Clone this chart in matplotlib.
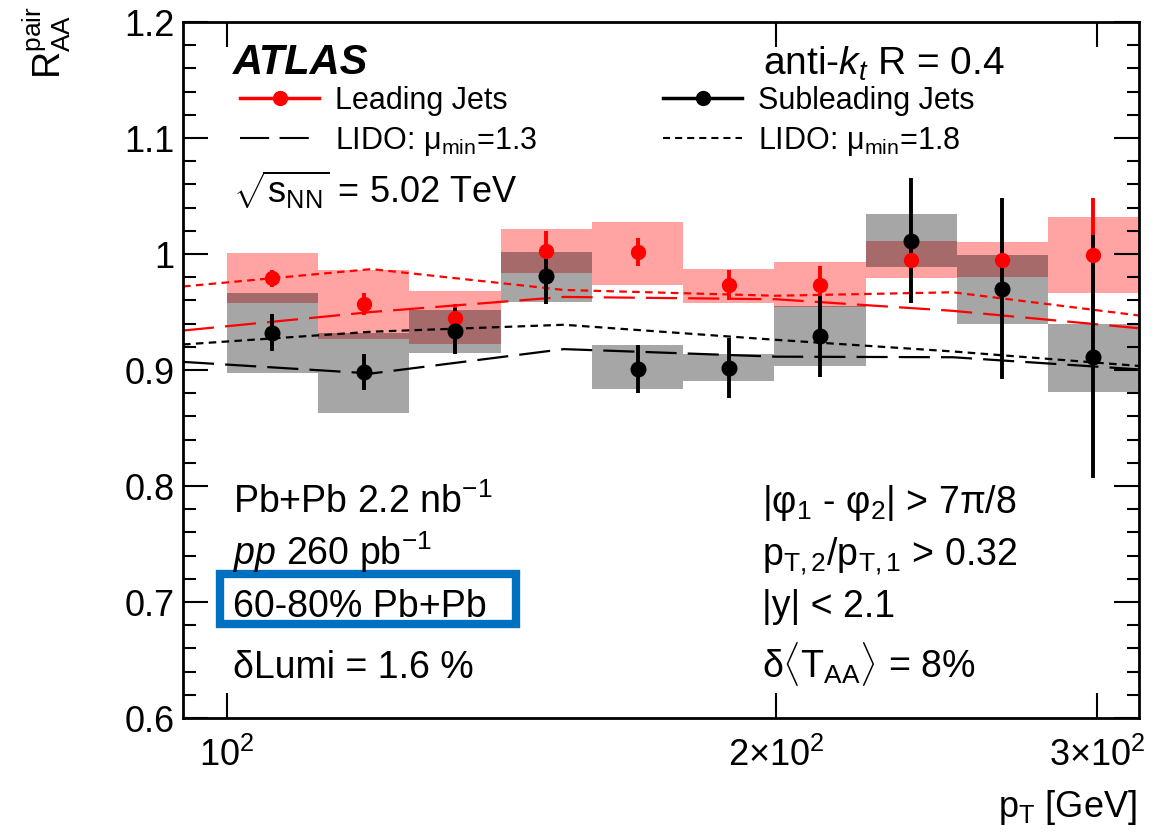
import numpy as np
import matplotlib
matplotlib.use('Agg')
import matplotlib.pyplot as plt
from matplotlib.patches import Rectangle
from matplotlib.lines import Line2D
from matplotlib.ticker import FixedLocator, MultipleLocator, NullLocator

plt.rcParams['font.family'] = ['Liberation Sans', 'DejaVu Sans']
plt.rcParams['mathtext.fontset'] = 'custom'
plt.rcParams['mathtext.rm'] = 'Liberation Sans'
plt.rcParams['mathtext.it'] = 'Liberation Sans:italic'
plt.rcParams['mathtext.bf'] = 'Liberation Sans:bold'

# pT bins [GeV]
edges = [100, 112.2, 125.9, 141.3, 158.5, 177.8, 199.5, 223.9, 251.2, 281.8, 316.2]
centers = [105.9, 118.9, 133.4, 149.6, 167.9, 188.4, 211.3, 237.1, 266.1, 298.5]

# leading jets
lead_val = [0.979, 0.957, 0.945, 1.003, 1.002, 0.973, 0.973, 0.995, 0.995, 0.999]
lead_err = [0.0075, 0.0097, 0.012, 0.017, 0.012, 0.0128, 0.017, 0.012, 0.015, 0.049]
lead_lo = [0.9575, 0.927, 0.922, 0.984, 0.9733, 0.958, 0.954, 0.979, 0.9805, 0.966]
lead_hi = [1.0006, 0.9862, 0.968, 1.0213, 1.0279, 0.987, 0.993, 1.0115, 1.010, 1.0316]

# subleading jets
sub_val = [0.932, 0.898, 0.934, 0.981, 0.901, 0.9015, 0.929, 1.0115, 0.970, 0.9115]
sub_err = [0.016, 0.0154, 0.0198, 0.024, 0.0205, 0.026, 0.035, 0.054, 0.078, 0.105]
sub_lo = [0.8977, 0.8627, 0.9144, 0.959, 0.8836, 0.8905, 0.9034, 0.9885, 0.9394, 0.8808]
sub_hi = [0.966, 0.932, 0.9515, 1.002, 0.9216, 0.9135, 0.955, 1.0342, 0.9991, 0.9394]

# LIDO curves
lido_pt = [94.6, 120, 153, 200, 250, 316.2]
lead_mu13 = [0.934, 0.950, 0.963, 0.961, 0.951, 0.936]
lead_mu18 = [0.972, 0.987, 0.969, 0.964, 0.967, 0.947]
sub_mu13 = [0.907, 0.897, 0.918, 0.9115, 0.911, 0.9005]
sub_mu18 = [0.922, 0.933, 0.939, 0.926, 0.916, 0.9035]

W, H = 1175, 839
fig = plt.figure(figsize=(W / 100, H / 100), dpi=100)
ax = fig.add_axes([183 / W, 1 - 718 / H, (1139 - 183) / W, (718 - 22) / H])
ax.set_xscale('log')
ax.set_xlim(94.6, 316.2)
ax.set_ylim(0.6, 1.2)

long_dash = (0, (14, 5))
short_dash = (0, (3.4, 2.4))

# systematic boxes
for i in range(len(centers)):
    ax.add_patch(Rectangle((edges[i], lead_lo[i]), edges[i + 1] - edges[i],
                           lead_hi[i] - lead_lo[i], facecolor='red', alpha=0.36, lw=0))
for i in range(len(centers)):
    ax.add_patch(Rectangle((edges[i], sub_lo[i]), edges[i + 1] - edges[i],
                           sub_hi[i] - sub_lo[i], facecolor='black', alpha=0.35, lw=0))

ax.plot(lido_pt, lead_mu13, color='red', lw=1.6, linestyle=long_dash)
ax.plot(lido_pt, lead_mu18, color='red', lw=1.6, linestyle=short_dash)
ax.plot(lido_pt, sub_mu13, color='black', lw=1.6, linestyle=long_dash)
ax.plot(lido_pt, sub_mu18, color='black', lw=1.6, linestyle=short_dash)

ax.errorbar(centers, lead_val, yerr=lead_err, fmt='o', color='red', ms=10,
            elinewidth=2.8, capsize=0)
ax.errorbar(centers, sub_val, yerr=sub_err, fmt='o', color='black', ms=10.5,
            elinewidth=2.8, capsize=0)

# axes styling
for s in ax.spines.values():
    s.set_linewidth(2)
ax.yaxis.set_minor_locator(MultipleLocator(0.02))
ax.set_yticks([0.6, 0.7, 0.8, 0.9, 1.0, 1.1, 1.2])
ax.set_yticklabels(['0.6', '0.7', '0.8', '0.9', '1', '1.1', '1.2'])
ax.xaxis.set_major_locator(FixedLocator([100, 200, 300]))
ax.xaxis.set_minor_locator(NullLocator())
ax.set_xticklabels([r'$10^{2}$', r'$2{\times}10^{2}$', r'$3{\times}10^{2}$'])
ax.tick_params(which='both', direction='in', top=True, right=True, width=1.5)
ax.tick_params(which='major', length=18, labelsize=26)
ax.tick_params(axis='y', which='major', pad=6)
ax.tick_params(axis='x', which='major', pad=14)
ax.tick_params(which='minor', length=9)


def ftext(x, y, s, **kw):
    return fig.text(x / W, 1 - y / H, s, **kw)


ftext(1137, 817, r'p$_{\mathrm{T}}$ [GeV]', ha='right', va='baseline', fontsize=26)
ftext(47, 6, r'R$^{\mathrm{pair}}_{\mathrm{AA}}$', rotation=90, ha='center', va='top', fontsize=27)

ftext(233, 74, 'ATLAS', fontsize=30, fontweight='bold', fontstyle='italic', va='baseline')
ftext(763, 75, r'anti-$k_{t}$ R = 0.4', fontsize=28, va='baseline')
ftext(233, 203, r'$\sqrt{\mathrm{s}_{\mathrm{NN}}}$ = 5.02 TeV', fontsize=26, va='baseline')

ftext(233, 513, r'Pb+Pb 2.2 nb$^{\mathrm{-1}}$', fontsize=27, va='baseline')
ftext(233, 565, r'$pp$ 260 pb$^{\mathrm{-1}}$', fontsize=27, va='baseline')
ftext(233, 617, '60-80% Pb+Pb', fontsize=27, va='baseline')
ftext(233, 678, 'δLumi = 1.6 %', fontsize=27, va='baseline')
fig.patches.append(Rectangle((220 / W, 1 - 624 / H), 296 / W, 50 / H, transform=fig.transFigure,
                             fill=False, edgecolor='#0070c0', lw=6))

ftext(762, 513, r'|φ$_{\mathrm{1}}$ - φ$_{\mathrm{2}}$| > 7π/8', fontsize=27, va='baseline')
ftext(762, 565, r'p$_{\mathrm{T,2}}$/p$_{\mathrm{T,1}}$ > 0.32', fontsize=27, va='baseline')
ftext(762, 617, '|y| < 2.1', fontsize=27, va='baseline')
ftext(762, 678, r'δ$\langle$T$_{\mathrm{AA}}\rangle$ = 8%', fontsize=27, va='baseline')

# legend
h_lead = Line2D([], [], color='red', marker='o', ms=10, lw=2.5)
h_sub = Line2D([], [], color='black', marker='o', ms=10, lw=2.5)
h_l13 = Line2D([], [], color='black', lw=1.5, linestyle=long_dash)
h_l18 = Line2D([], [], color='black', lw=1.5, linestyle=short_dash)
leg1 = ax.legend([h_lead, h_l13], ['Leading Jets', r'LIDO: μ$_{\mathrm{min}}$=1.3'],
                 loc='upper left', bbox_to_anchor=(240 / W, 1 - 86 / H), bbox_transform=fig.transFigure,
                 frameon=False, fontsize=22, handlelength=2.6, handletextpad=0.5,
                 labelspacing=0.3, borderpad=0, borderaxespad=0)
ax.add_artist(leg1)
ax.legend([h_sub, h_l18], ['Subleading Jets', r'LIDO: μ$_{\mathrm{min}}$=1.8'],
          loc='upper left', bbox_to_anchor=(663 / W, 1 - 86 / H), bbox_transform=fig.transFigure,
          frameon=False, fontsize=22, handlelength=2.6, handletextpad=0.5,
          labelspacing=0.3, borderpad=0, borderaxespad=0)

plt.savefig('out.png', dpi=100)
